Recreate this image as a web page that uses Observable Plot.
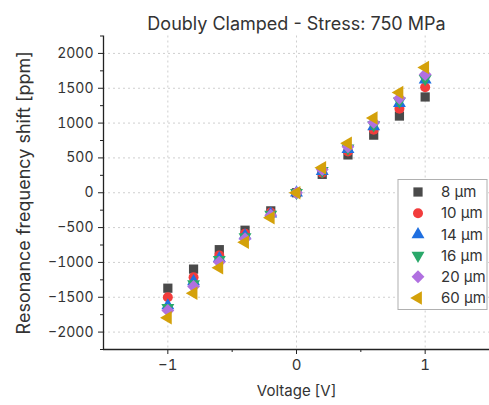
<!DOCTYPE html>
<html><head><meta charset="utf-8">
<script src="https://cdn.jsdelivr.net/npm/d3@7"></script>
<script src="https://cdn.jsdelivr.net/npm/@observablehq/plot@0.6"></script>
<style>
body{margin:0;background:#fff;font-family:Inter,"Liberation Sans",sans-serif}
#wrap{position:relative;width:489px;height:405px}
</style></head><body><div id="wrap"></div>
<script>
const voltages = [-1, -0.8, -0.6, -0.4, -0.2, 0, 0.2, 0.4, 0.6, 0.8, 1];
const shift8  = [-1370, -1096, -817, -538, -260, 0, 264, 543, 827, 1101, 1375];
const shift10 = [-1500, -1212, -899, -587, -284, 0, 288, 591, 904, 1207, 1514];
const shift14 = [-1620, -1274, -942, -615, -303, 0, 308, 625, 952, 1284, 1620];
const shift16 = [-1650, -1308, -962, -635, -312, 0, 317, 639, 971, 1312, 1635];
const shift20 = [-1690, -1346, -995, -659, -322, 0, 332, 659, 1010, 1356, 1697];
const shift60 = [-1795, -1442, -1077, -712, -360, 0, 360, 712, 1072, 1438, 1798];
const seriesNames = ["8 µm", "10 µm", "14 µm", "16 µm", "20 µm", "60 µm"];
const seriesValues = [shift8, shift10, shift14, shift16, shift20, shift60];
const colors = ["#4a4a4a", "#f23c3c", "#1f6fe0", "#2aa86a", "#b070e0", "#d4a10a"];
const xMajor = [-1, 0, 1];
const xMinor = [-0.5, 0.5];
const yMajor = [-2000, -1500, -1000, -500, 0, 500, 1000, 1500, 2000];
const yMinor = [-2250, -1750, -1250, -750, -250, 250, 750, 1250, 1750, 2250];
const title = "Doubly Clamped - Stress: 750 MPa";
const yLabel = "Resonance frequency shift [ppm]";

const sqrt3 = Math.sqrt(3);
function triDir(dir) {
  return {draw(ctx, size) {
    const y = -Math.sqrt(size / (sqrt3 * 3));
    const pts = [[0, 2 * y], [-sqrt3 * y, -y], [sqrt3 * y, -y]];
    const tr = pts.map(([a, b]) => dir === "up" ? [a, b] : dir === "down" ? [a, -b] : [b, a]);
    ctx.moveTo(tr[0][0], tr[0][1]);
    ctx.lineTo(tr[1][0], tr[1][1]);
    ctx.lineTo(tr[2][0], tr[2][1]);
    ctx.closePath();
  }};
}
const diamond = d3.symbolDiamond2 || d3.symbolDiamond;
const symbols = [d3.symbolSquare, d3.symbolCircle, triDir("up"), triDir("down"), diamond, triDir("left")];
const radii = [5.2, 5, 4.8, 4.8, 5.8, 5];

const data = [];
seriesNames.forEach((name, i) => voltages.forEach((v, j) => data.push({series: i, v, s: seriesValues[i][j]})));

const fmt = d => d < 0 ? "\u2212" + Math.abs(d) : String(d);
const axisColor = "#222";

const plot = Plot.plot({
  width: 489, height: 405,
  marginLeft: 103, marginRight: 0, marginTop: 35.5, marginBottom: 56,
  style: {fontFamily: "Inter, 'Liberation Sans', sans-serif", fontSize: "14px", color: "#333", background: "#fff"},
  x: {domain: [-1.5, 1.5]},
  y: {domain: [-2250, 2250]},
  marks: [
    Plot.ruleX(xMajor, {stroke: "#cfcfcf", strokeDasharray: "2,3", strokeWidth: 1}),
    Plot.ruleY(yMajor, {stroke: "#cfcfcf", strokeDasharray: "2,3", strokeWidth: 1}),
    Plot.axisX(xMajor, {tickSize: 5, tickPadding: 5, tickFormat: fmt, stroke: axisColor, fill: "#333",
      label: "Voltage [V]", labelAnchor: "center", labelArrow: "none", labelOffset: 46, fontSize: 15}),
    Plot.axisX(xMinor, {tickSize: 3, text: null, label: null, stroke: axisColor}),
    Plot.axisY(yMajor, {tickSize: 5, tickPadding: 5, tickFormat: fmt, stroke: axisColor, fill: "#333",
      label: null}),
    Plot.axisY(yMinor, {tickSize: 3, text: null, label: null, stroke: axisColor}),
    Plot.text([yLabel], {frameAnchor: "left", dx: -79, rotate: -90, textAnchor: "middle", fontSize: 18, fill: "#333"}),
    Plot.ruleX([-1.5], {stroke: axisColor, strokeWidth: 1.3}),
    Plot.ruleY([-2250], {stroke: axisColor, strokeWidth: 1.3}),
    ...seriesNames.map((n, i) => Plot.dot(data.filter(d => d.series === i), {
      x: "v", y: "s", r: radii[i], symbol: symbols[i], fill: colors[i], stroke: "none"
    })),
    Plot.text([title], {frameAnchor: "top", dy: -19, fontSize: 18, fill: "#333"})
  ]
});
document.getElementById("wrap").appendChild(plot);

// Legend box
const svg = d3.select(plot);
const lg = svg.append("g").attr("transform", "translate(398,179.5)").attr("text-anchor", "start");
lg.append("rect").attr("width", 89).attr("height", 130).attr("fill", "#fff").attr("stroke", "#b0b0b0").attr("stroke-width", 1);
seriesNames.forEach((n, i) => {
  const y = 12.5 + i * 21.2;
  lg.append("path")
    .attr("transform", `translate(20,${y})`)
    .attr("d", d3.symbol(symbols[i], Math.PI * radii[i] * radii[i])())
    .attr("fill", colors[i]);
  lg.append("text").attr("x", 43).attr("y", y).attr("dy", "0.35em")
    .attr("font-size", 15).attr("fill", "#333").text(n);
});
</script></body></html>
